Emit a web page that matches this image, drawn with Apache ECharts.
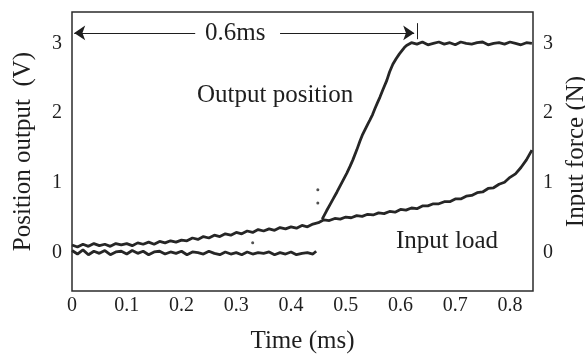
<!DOCTYPE html>
<html>
<head>
<meta charset="utf-8">
<script src="https://cdn.jsdelivr.net/npm/echarts@6/dist/echarts.min.js"></script>
<style>
  html, body { margin: 0; padding: 0; background: #fff; }
  #chart { width: 585px; height: 357px; }
</style>
</head>
<body>
<div id="chart"></div>
<script>
// Position output, flat part before the actuator starts moving (ms, V)
const posTimeA = [0, 0.01, 0.02, 0.03, 0.04, 0.05, 0.06, 0.07, 0.08, 0.09,
  0.10, 0.11, 0.12, 0.13, 0.14, 0.15, 0.16, 0.17, 0.18, 0.19,
  0.20, 0.21, 0.22, 0.23, 0.24, 0.25, 0.26, 0.27, 0.28, 0.29,
  0.30, 0.31, 0.32, 0.33, 0.34, 0.35, 0.36, 0.37, 0.38, 0.39,
  0.40, 0.41, 0.42, 0.43, 0.44, 0.446];
const posValA = [0.03, -0.02, 0.04, -0.03, 0.02, -0.01, 0.03, -0.03, 0.01, 0.02,
  -0.02, 0.03, -0.01, 0.02, -0.03, 0.01, 0.02, -0.02, 0.01, -0.01,
  0.02, -0.03, 0.01, 0.00, -0.02, 0.02, -0.01, -0.03, 0.01, -0.02,
  0.00, -0.03, 0.01, -0.02, 0.00, -0.01, 0.01, -0.03, 0.00, -0.02,
  0.01, -0.03, -0.01, 0.00, -0.02, 0.02];

// Position output, rise and plateau (ms, V)
const posTimeB = [0.457, 0.465, 0.472, 0.477, 0.484, 0.49, 0.496, 0.502, 0.508, 0.513,
  0.52, 0.526, 0.53, 0.535, 0.54, 0.544, 0.549, 0.553, 0.558, 0.5625,
  0.568, 0.575, 0.58, 0.586, 0.592, 0.598, 0.603, 0.607, 0.611, 0.614,
  0.62, 0.63, 0.64, 0.65, 0.66, 0.67, 0.68, 0.69, 0.70, 0.71,
  0.72, 0.73, 0.74, 0.75, 0.76, 0.77, 0.78, 0.79, 0.80, 0.81,
  0.82, 0.83, 0.84];
const posValB = [0.48, 0.60, 0.70, 0.77, 0.87, 0.96, 1.05, 1.14, 1.24, 1.33,
  1.47, 1.60, 1.68, 1.76, 1.84, 1.90, 1.98, 2.06, 2.15, 2.23,
  2.34, 2.47, 2.59, 2.70, 2.78, 2.85, 2.90, 2.94, 2.97, 2.99,
  3.01, 2.99, 3.02, 2.98, 3.00, 3.02, 2.99, 3.01, 2.98, 3.02,
  3.00, 2.99, 3.01, 3.02, 2.98, 3.00, 3.01, 2.99, 3.02, 3.00,
  2.98, 3.01, 3.00];

// Isolated samples near the switching instant (ms, V)
const strayTime = [0.449, 0.449, 0.33];
const strayVal = [0.90, 0.71, 0.14];

// Input load (ms, N)
const loadTime = [0, 0.01, 0.02, 0.03, 0.04, 0.05, 0.06, 0.07, 0.08, 0.09,
  0.10, 0.11, 0.12, 0.13, 0.14, 0.15, 0.16, 0.17, 0.18, 0.19,
  0.20, 0.21, 0.22, 0.23, 0.24, 0.25, 0.26, 0.27, 0.28, 0.29,
  0.30, 0.31, 0.32, 0.33, 0.34, 0.35, 0.36, 0.37, 0.38, 0.39,
  0.40, 0.41, 0.42, 0.43, 0.44, 0.45, 0.46, 0.47, 0.48, 0.49,
  0.50, 0.51, 0.52, 0.53, 0.54, 0.55, 0.56, 0.57, 0.58, 0.59,
  0.60, 0.61, 0.62, 0.63, 0.64, 0.65, 0.66, 0.67, 0.68, 0.69,
  0.70, 0.71, 0.72, 0.73, 0.74, 0.75, 0.76, 0.77, 0.78, 0.79,
  0.80, 0.81, 0.82, 0.83, 0.84];
const loadVal = [0.11, 0.08, 0.12, 0.09, 0.13, 0.10, 0.12, 0.09, 0.13, 0.11,
  0.13, 0.10, 0.14, 0.12, 0.15, 0.12, 0.16, 0.14, 0.17, 0.15,
  0.18, 0.17, 0.21, 0.19, 0.23, 0.21, 0.25, 0.23, 0.27, 0.25,
  0.29, 0.27, 0.31, 0.29, 0.33, 0.31, 0.34, 0.32, 0.36, 0.34,
  0.37, 0.35, 0.39, 0.37, 0.41, 0.43, 0.47, 0.46, 0.49, 0.48,
  0.51, 0.50, 0.53, 0.52, 0.55, 0.54, 0.57, 0.56, 0.59, 0.58,
  0.62, 0.61, 0.64, 0.63, 0.67, 0.67, 0.70, 0.70, 0.73, 0.73,
  0.77, 0.77, 0.81, 0.82, 0.86, 0.87, 0.92, 0.93, 0.98, 1.01,
  1.08, 1.13, 1.22, 1.33, 1.47];

const xTicks = [0, 0.1, 0.2, 0.3, 0.4, 0.5, 0.6, 0.7, 0.8];
const yTicks = [0, 1, 2, 3];

const zip = (xs, ys) => xs.map((x, i) => [x, ys[i]]);

const FONT = "'Liberation Serif', 'Times New Roman', serif";
const INK = '#1e1e1e';
const TRACE = '#262626';

const axisText = { fontFamily: FONT, fontSize: 20, color: INK };
const nameText = { fontFamily: FONT, fontSize: 25, color: INK };
const noteLabel = {
  show: true, position: 'inside', formatter: '{b}',
  fontFamily: FONT, fontSize: 25, color: INK
};

function yAxisDef(name, gap, pos) {
  return {
    type: 'value', position: pos, min: -0.55, max: 3.45,
    axisLine: { show: false }, axisTick: { show: false }, splitLine: { show: false },
    axisLabel: Object.assign({ customValues: yTicks, margin: 10 }, axisText),
    name: name, nameLocation: 'middle', nameGap: gap, nameTextStyle: nameText
  };
}

const chart = echarts.init(document.getElementById('chart'), null, { renderer: 'canvas' });
chart.setOption({
  animation: false,
  backgroundColor: '#fff',
  grid: {
    left: 72, right: 52, top: 12, bottom: 66,
    outerBoundsMode: 'none', containLabel: false,
    show: true, borderColor: '#2b2b2b', borderWidth: 1.5
  },
  xAxis: {
    type: 'value', min: 0, max: 0.842,
    axisLine: { show: false }, axisTick: { show: false }, splitLine: { show: false },
    axisLabel: Object.assign({
      customValues: xTicks, margin: 5,
      formatter: v => (v === 0 ? '0' : v.toFixed(1))
    }, axisText),
    name: 'Time (ms)', nameLocation: 'middle', nameGap: 38, nameTextStyle: nameText
  },
  yAxis: [
    yAxisDef('Position output  (V)', 36, 'left'),
    yAxisDef('Input force (N)', 22, 'right')
  ],
  series: [
    {
      name: 'Input load', type: 'line', yAxisIndex: 1, data: zip(loadTime, loadVal),
      showSymbol: false, lineStyle: { color: TRACE, width: 2.8 }, silent: true,
      markPoint: {
        symbol: 'circle', symbolSize: 1, itemStyle: { color: 'rgba(0,0,0,0)' }, label: noteLabel,
        data: [{ name: 'Input load', coord: [0.685, 0.16] }]
      }
    },
    {
      name: 'Position (before)', type: 'line', data: zip(posTimeA, posValA),
      showSymbol: false, lineStyle: { color: TRACE, width: 2.8 }, silent: true
    },
    {
      name: 'Output position', type: 'line', data: zip(posTimeB, posValB),
      showSymbol: false, lineStyle: { color: TRACE, width: 2.8 }, silent: true,
      markLine: {
        silent: true, symbolSize: 11,
        lineStyle: { color: INK, width: 1, type: 'solid' },
        label: { show: false },
        data: [
          [{ coord: [0.004, 3.15], symbol: 'arrow' }, { coord: [0.225, 3.15], symbol: 'none' }],
          [{ coord: [0.38, 3.15], symbol: 'none' }, { coord: [0.625, 3.15], symbol: 'arrow' }],
          [{ coord: [0.63, 3.06], symbol: 'none' }, { coord: [0.63, 3.29], symbol: 'none' }]
        ]
      },
      markPoint: {
        symbol: 'circle', symbolSize: 1, itemStyle: { color: 'rgba(0,0,0,0)' }, label: noteLabel,
        data: [
          { name: '0.6ms', coord: [0.298, 3.14] },
          { name: 'Output position', coord: [0.371, 2.26] }
        ]
      }
    },
    {
      name: 'Stray samples', type: 'scatter', data: zip(strayTime, strayVal),
      symbolSize: 3, itemStyle: { color: TRACE }, silent: true
    }
  ]
});
</script>
</body>
</html>
